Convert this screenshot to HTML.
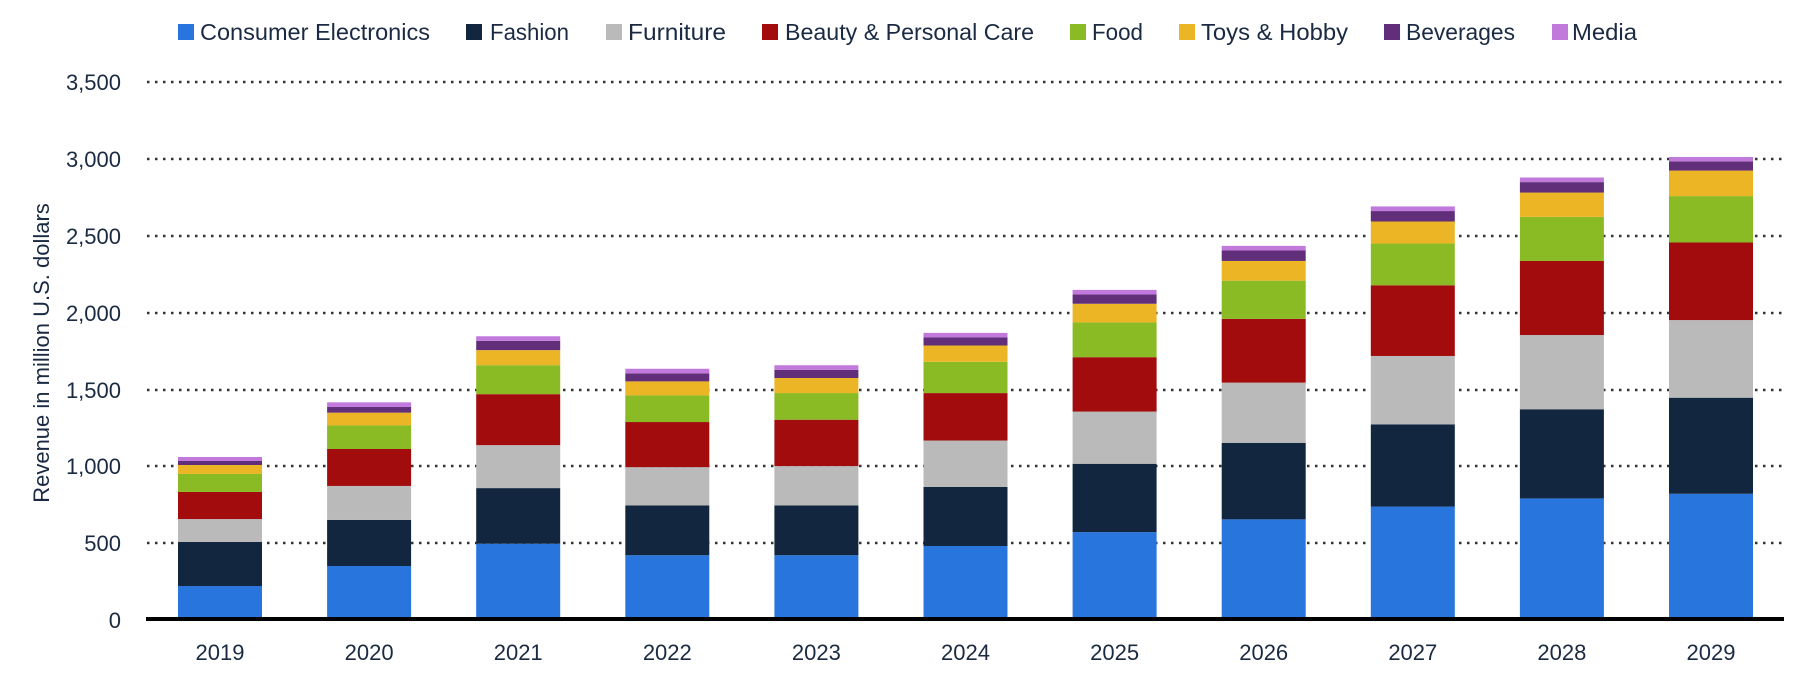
<!DOCTYPE html>
<html><head><meta charset="utf-8"><style>
html,body{margin:0;padding:0;background:#fff;}
svg{display:block;font-family:"Liberation Sans",sans-serif;}
</style></head><body>
<svg width="1807" height="680" viewBox="0 0 1807 680" xmlns="http://www.w3.org/2000/svg">
<g id="legend" font-size="23" fill="#1a2a42">
<rect x="178" y="24" width="16" height="16" fill="#2876dd"/><text x="200" y="40" textLength="230" lengthAdjust="spacingAndGlyphs">Consumer Electronics</text>
<rect x="466" y="24" width="16" height="16" fill="#12273f"/><text x="490" y="40" textLength="79" lengthAdjust="spacingAndGlyphs">Fashion</text>
<rect x="606" y="24" width="16" height="16" fill="#bababa"/><text x="628" y="40" textLength="98" lengthAdjust="spacingAndGlyphs">Furniture</text>
<rect x="762" y="24" width="16" height="16" fill="#a30c0c"/><text x="785" y="40" textLength="249" lengthAdjust="spacingAndGlyphs">Beauty &amp; Personal Care</text>
<rect x="1070" y="24" width="16" height="16" fill="#8aba24"/><text x="1092" y="40" textLength="51" lengthAdjust="spacingAndGlyphs">Food</text>
<rect x="1179" y="24" width="16" height="16" fill="#ecb526"/><text x="1201" y="40" textLength="147" lengthAdjust="spacingAndGlyphs">Toys &amp; Hobby</text>
<rect x="1384" y="24" width="16" height="16" fill="#612f7a"/><text x="1406" y="40" textLength="109" lengthAdjust="spacingAndGlyphs">Beverages</text>
<rect x="1552" y="24" width="16" height="16" fill="#c17adc"/><text x="1572" y="40" textLength="65" lengthAdjust="spacingAndGlyphs">Media</text>
</g>
<g stroke="#333" stroke-width="2.5" stroke-dasharray="2.5 5.5">
<line x1="147" y1="82" x2="1784" y2="82"/>
<line x1="147" y1="159" x2="1784" y2="159"/>
<line x1="147" y1="236" x2="1784" y2="236"/>
<line x1="147" y1="313" x2="1784" y2="313"/>
<line x1="147" y1="390" x2="1784" y2="390"/>
<line x1="147" y1="466" x2="1784" y2="466"/>
<line x1="147" y1="543" x2="1784" y2="543"/>
</g>
<g font-size="22" fill="#1a2a42" text-anchor="end">
<text x="121" y="90">3,500</text>
<text x="121" y="167">3,000</text>
<text x="121" y="244">2,500</text>
<text x="121" y="321">2,000</text>
<text x="121" y="398">1,500</text>
<text x="121" y="474">1,000</text>
<text x="121" y="551">500</text>
<text x="121" y="628">0</text>
</g>
<text transform="translate(49,353) rotate(-90)" font-size="22" fill="#1a2a42" text-anchor="middle">Revenue in million U.S. dollars</text>
<g id="bars"></g>
<line x1="146" y1="619" x2="1784" y2="619" stroke="#000" stroke-width="4"/>
<g id="xl" font-size="22" fill="#1a2a42" text-anchor="middle"></g>
<script>
var data=[
[214,500,649,825,942,1000,1026,1052],
[344,643,864,1104,1257,1340,1377,1407],
[489,850,1129,1460,1648,1746,1806,1836],
[414,737,986,1279,1452,1543,1595,1625],
[414,737,993,1294,1467,1565,1618,1648],
[474,858,1159,1467,1670,1776,1828,1858],
[564,1008,1347,1700,1926,2047,2107,2137],
[647,1144,1535,1949,2197,2325,2393,2423],
[730,1264,1708,2167,2438,2581,2649,2679],
[783,1362,1844,2325,2611,2769,2837,2867],
[813,1437,1941,2445,2746,2912,2972,3000]];
var col=["#2876dd","#12273f","#bababa","#a30c0c","#8aba24","#ecb526","#612f7a","#c17adc"];
var ns="http://www.w3.org/2000/svg",g=document.getElementById("bars"),xl=document.getElementById("xl");
function y(v){return 619-v*0.154;}
for(var i=0;i<11;i++){var x=178+149.1*i,prev=0;
for(var k=0;k<8;k++){var r=document.createElementNS(ns,"rect");
r.setAttribute("x",x);r.setAttribute("width",84);r.setAttribute("y",y(data[i][k]));
r.setAttribute("height",y(prev)-y(data[i][k]));r.setAttribute("fill",col[k]);g.appendChild(r);prev=data[i][k];}
var t=document.createElementNS(ns,"text");t.setAttribute("x",x+42);t.setAttribute("y",660);t.textContent=2019+i;xl.appendChild(t);}
</script>
</svg>
</body></html>
